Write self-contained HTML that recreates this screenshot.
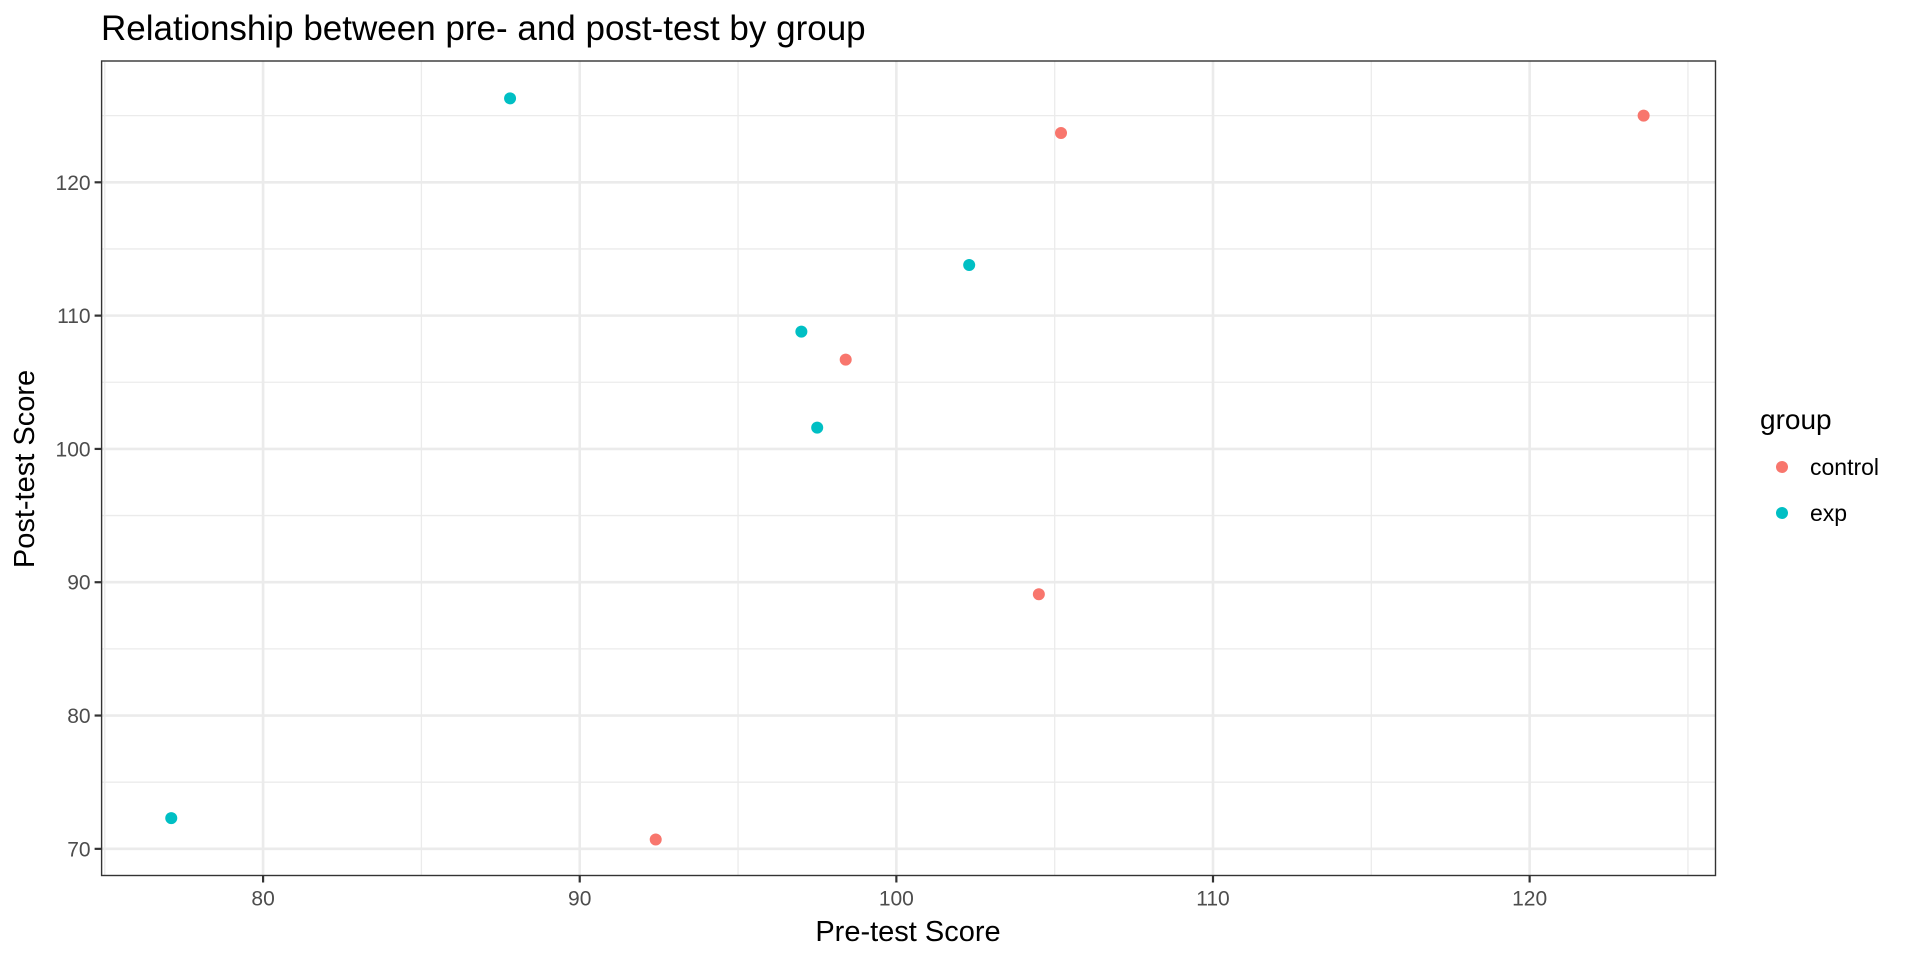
<!DOCTYPE html>
<html><head><meta charset="utf-8"><style>
body{margin:0;background:#fff;}
svg text{font-family:"Liberation Sans",Arial,sans-serif;}
</style></head><body>
<svg id="chart" width="1920" height="960" xmlns="http://www.w3.org/2000/svg">
<text x="101" y="40" font-size="35" fill="#000">Relationship between pre- and post-test by group</text>
<g id="grid"></g><g id="points"></g><g id="axes"></g>
<text x="908" y="941" font-size="29" text-anchor="middle" fill="#000">Pre-test Score</text>
<text transform="translate(34,469) rotate(-90)" font-size="29" text-anchor="middle" fill="#000">Post-test Score</text>
<g>
<text x="1760" y="429" font-size="28" fill="#000">group</text>
<circle cx="1782" cy="467" r="6" fill="#F8766D"/>
<text x="1810" y="475" font-size="23" fill="#000">control</text>
<circle cx="1782" cy="513" r="6" fill="#00BFC4"/>
<text x="1810" y="521" font-size="23" fill="#000">exp</text>
</g>
</svg>
<script>
const controlX=[105.2,123.6,98.4,104.5,92.4];
const controlY=[123.7,125.0,106.7,89.1,70.7];
const expX=[87.8,77.1,97.0,97.5,102.3];
const expY=[126.3,72.3,108.8,101.6,113.8];
const xTicks=[80,90,100,110,120];
const yTicks=[70,80,90,100,110,120];
const xMinor=[75,85,95,105,115,125];
const yMinor=[75,85,95,105,115,125];
const L=101.6,R=1715.5,T=61,B=875.5;
const xMin=74.9,xMax=125.87,yMin=68.0,yMax=129.1;
const NS='http://www.w3.org/2000/svg';
function sx(v){return L+(v-xMin)/(xMax-xMin)*(R-L);}
function sy(v){return B-(v-yMin)/(yMax-yMin)*(B-T);}
function mk(tag,attrs,parent){const e=document.createElementNS(NS,tag);for(const k in attrs)e.setAttribute(k,attrs[k]);parent.appendChild(e);return e;}
const grid=document.getElementById('grid'),pts=document.getElementById('points'),axes=document.getElementById('axes');
mk('rect',{x:L,y:T,width:R-L,height:B-T,fill:'#fff'},grid);
xMinor.forEach(v=>{const e=mk('line',{x1:sx(v),x2:sx(v),y1:T,y2:B,stroke:'#ebebeb','stroke-width':1.3},grid);

});
yMinor.forEach(v=>{const e=mk('line',{x1:L,x2:R,y1:sy(v),y2:sy(v),stroke:'#ebebeb','stroke-width':1.3},grid);

});
xTicks.forEach(v=>{const e=mk('line',{x1:sx(v),x2:sx(v),y1:T,y2:B,stroke:'#ebebeb','stroke-width':2.6},grid);


const t=mk('line',{x1:sx(v),x2:sx(v),y1:B,y2:B+7,stroke:'#333','stroke-width':2.2},axes);


const l=mk('text',{x:sx(v),y:B+30,'font-size':21,'text-anchor':'middle',fill:'#4d4d4d'},axes);l.textContent=v;

});
yTicks.forEach(v=>{const e=mk('line',{x1:L,x2:R,y1:sy(v),y2:sy(v),stroke:'#ebebeb','stroke-width':2.6},grid);


const t=mk('line',{x1:L-7,x2:L,y1:sy(v),y2:sy(v),stroke:'#333','stroke-width':2.2},axes);


const l=mk('text',{x:L-11,y:sy(v)+7.5,'font-size':21,'text-anchor':'end',fill:'#4d4d4d'},axes);l.textContent=v;

});
const border=mk('rect',{x:L,y:T,width:R-L,height:B-T,fill:'none',stroke:'#333','stroke-width':1.4},axes);


controlX.forEach((v,i)=>{const c=mk('circle',{cx:sx(v),cy:sy(controlY[i]),r:6,fill:'#F8766D'},pts);

});
expX.forEach((v,i)=>{const c=mk('circle',{cx:sx(v),cy:sy(expY[i]),r:6,fill:'#00BFC4'},pts);

});
</script>
</body></html>
